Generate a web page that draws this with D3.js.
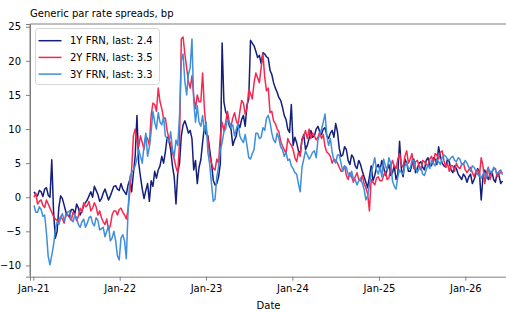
<!DOCTYPE html>
<html>
<head>
<meta charset="utf-8">
<script src="https://cdn.jsdelivr.net/npm/d3@7"></script>
<style>
  body { margin: 0; background: #fff; }
  svg { display: block; font-family: "DejaVu Sans", sans-serif; }
</style>
</head>
<body>
<svg id="chart" width="506" height="313"></svg>
<script>
// one reading every 7.5 days (180 hours), starting 4 Jan 2021
var startDate = "2021-01-04"
var stepHours = 180

var series1Y = [
  0.8, 0.4, 0.2, 1.0, 0.8, 0.1, 1.2, 1.4, 0.3, 0.0, 5.5, -2.0, -6.0, -5.0, -1.5, 0.2, -0.2, -1.2, -2.2, -2.6, -2.8, -1.8, -1.8, -2.4, -1.0,
  -1.6, -2.6, -2.0, -1.2, -0.8, -0.4, 0.2, 0.8, 0.0, 1.6, 1.0, 0.4, -0.6, -0.2, 0.6, 1.2, 0.4, -0.4, 0.2, 0.9, 1.6, 1.7, 1.2, 1.0, 2.0,
  1.2, 0.8, 0.4, 1.8, 2.6, 0.8, 3.5, 6.0, 12.0, 5.0, 3.0, 1.2, -0.2, 1.0, 2.0, -0.6, 2.4, 1.6, 3.8, 2.8, 4.0, 4.6, 6.0, 5.0,
  6.6, 8.8, 8.4, 7.0, 4.6, 3.0, -1.0, 3.6, 5.0, 9.0, 10.6, 11.2, 10.4, 9.4, 9.8, 8.6, 4.0, 5.4, 2.0, 4.4, 5.5, 8.0, 10.4, 9.2,
  9.0, 7.0, 5.0, 2.5, 1.8, 2.0, 3.0, 5.0, 22.6, 14.0, 12.5, 12.0, 10.5, 10.0, 7.6, 8.4, 9.0, 10.8, 10.2, 11.4, 12.0, 10.4, 13.5, 14.4,
  23.0, 22.6, 22.2, 21.4, 20.5, 20.8, 19.6, 21.2, 21.0, 20.6, 20.4, 18.6, 18.0, 16.8, 16.0, 15.4, 14.6, 14.2, 13.2, 12.0, 11.4, 10.0, 9.5, 13.6,
  7.6, 8.8, 8.0, 6.8, 6.4, 8.4, 9.2, 7.0, 7.6, 8.6, 9.8, 8.8, 9.0, 10.0, 10.4, 9.6, 9.2, 10.0, 10.2, 9.0, 8.6, 9.4, 9.8, 8.8, 10.8,
  9.6, 7.2, 6.0, 6.2, 7.4, 7.0, 5.4, 4.8, 6.2, 5.8, 4.6, 4.2, 5.4, 4.8, 3.8, 3.0, 2.2, 1.4, 3.0, 4.6, 2.4, 3.2, 4.4, 4.8, 4.0,
  5.4, 4.4, 3.2, 4.0, 4.8, 3.2, 3.6, 4.6, 2.6, 3.4, 8.2, 4.2, 3.0, 5.6, 5.0, 3.8, 3.8, 4.8, 5.6, 3.6, 4.2, 5.0, 5.2, 4.4,
  4.0, 5.4, 5.8, 4.6, 4.6, 5.8, 5.6, 4.8, 7.4, 6.0, 5.0, 4.6, 4.4, 5.6, 5.2, 4.0, 3.6, 4.6, 4.2, 3.4, 3.0, 2.6, 3.4, 3.0,
  2.2, 3.0, 3.4, 2.0, 2.6, 3.4, 4.2, 3.6, -0.4, 3.0, 4.0, 3.2, 2.6, 3.4, 3.8, 2.6, 2.2, 3.6, 3.2, 2.0, 2.4
]
var series2Y = [
  0.0, 0.6, -1.0, -0.6, -0.4, -1.2, -1.5, -0.4, -1.0, -1.6, -2.2, -2.8, -3.2, -3.4, -3.6, -2.8, -3.2, -3.8, -2.4, -2.6, -3.0, -3.4, -2.2, -2.6, -3.4,
  -2.8, -1.6, -2.2, -0.8, -1.4, -1.2, -0.6, -2.0, -1.6, -0.8, -1.4, -2.6, -2.0, -3.0, -3.6, -4.0, -3.2, -4.8, -4.2, -2.6, -2.0, -2.0, -2.6, -1.8, -1.6,
  -2.2, -2.6, -3.2, -1.8, 0.8, 4.0, 9.0, 10.0, 8.2, 7.4, 9.0, 8.0, 7.0, 9.0, 8.6, 7.6, 12.0, 13.8, 13.6, 12.6, 16.0, 14.0, 13.0, 11.6,
  11.6, 9.8, 8.6, 7.8, 6.6, 5.6, 4.4, 3.6, 8.0, 23.2, 23.5, 21.0, 19.0, 17.0, 16.0, 17.8, 14.8, 13.0, 15.0, 14.0, 14.0, 18.2, 13.0, 10.0,
  8.5, 6.0, 5.0, 4.2, 4.0, 5.6, 5.0, 9.0, 11.0, 9.8, 11.0, 12.6, 11.0, 10.4, 11.6, 12.4, 11.2, 10.6, 12.6, 14.2, 13.8, 12.2, 13.0, 15.8,
  15.2, 14.4, 16.8, 18.2, 17.5, 16.8, 19.0, 21.0, 17.6, 15.6, 16.0, 12.4, 12.6, 11.2, 10.8, 10.0, 9.6, 8.2, 7.5, 7.0, 6.4, 8.6, 8.0, 7.6,
  7.0, 5.8, 5.2, 6.6, 6.0, 8.6, 9.0, 9.8, 8.6, 10.0, 8.6, 9.4, 9.0, 8.4, 8.8, 9.6, 8.6, 9.2, 7.4, 6.6, 6.4, 6.0, 5.0, 5.6, 5.4,
  5.0, 4.4, 3.8, 4.0, 4.6, 3.2, 2.6, 3.6, 3.0, 2.2, 3.0, 3.6, 2.6, 2.4, 3.2, 2.0, 1.4, 0.5, -2.0, 2.6, 2.2, 1.8, 2.8, 3.0, 2.4,
  2.4, 3.2, 3.8, 2.6, 2.8, 4.4, 5.4, 4.6, 4.2, 5.6, 6.4, 4.8, 4.4, 6.0, 6.8, 5.0, 5.6, 6.4, 4.2, 5.2, 5.4, 4.6, 4.0, 5.4,
  5.2, 4.8, 4.6, 5.6, 6.0, 5.0, 6.4, 6.2, 5.6, 6.6, 6.8, 5.4, 4.4, 5.0, 3.8, 4.6, 4.6, 3.8, 5.0, 4.4, 4.2, 4.8, 5.0, 4.0,
  3.6, 4.0, 4.4, 3.6, 3.0, 3.8, 4.0, 3.2, 5.8, 4.6, 2.0, 3.6, 4.4, 2.6, 3.6, 4.2, 4.2, 3.0, 3.2, 3.8, 3.5
]
var series3Y = [
  -1.2, -2.2, -2.2, -1.4, -1.8, -2.8, -2.6, -5.2, -8.7, -9.9, -8.5, -7.0, -4.8, -3.6, -4.0, -3.0, -2.4, -3.4, -2.8, -2.2, -2.0, -3.2, -3.6, -2.6, -3.0,
  -4.0, -4.4, -3.6, -3.2, -4.4, -3.8, -3.0, -2.8, -3.8, -4.2, -3.0, -3.4, -4.8, -4.6, -4.4, -5.8, -5.0, -4.2, -6.4, -6.0, -5.0, -6.4, -8.6, -9.2, -6.0,
  -5.5, -6.4, -9.0, -2.0, 3.0, 3.6, 4.0, 4.6, 5.6, 7.0, 6.0, 5.0, 7.6, 9.4, 6.0, 7.4, 9.6, 12.6, 11.0, 10.0, 12.4, 11.0, 10.6, 11.8,
  9.0, 8.6, 8.0, 9.6, 7.0, 6.0, 8.4, 7.6, 12.0, 20.0, 21.0, 17.0, 15.0, 18.0, 19.0, 23.2, 14.0, 11.0, 13.4, 11.0, 10.4, 12.0, 9.6, 11.0,
  6.5, 4.8, 2.0, -0.6, -0.3, 3.0, 4.5, 7.0, 8.0, 9.6, 10.0, 11.4, 11.0, 10.2, 10.6, 9.0, 10.0, 10.8, 9.0, 8.4, 8.0, 9.2, 7.6, 5.8,
  5.6, 6.4, 7.0, 9.4, 9.4, 8.6, 8.8, 10.2, 9.8, 11.6, 12.0, 11.0, 9.4, 8.4, 8.0, 9.4, 8.6, 7.4, 7.0, 6.0, 6.6, 5.4, 5.6, 4.6,
  4.2, 3.6, 3.4, 2.0, 0.8, 4.4, 5.6, 6.8, 6.2, 5.6, 6.0, 6.6, 6.8, 5.8, 8.4, 9.2, 10.0, 11.0, 12.2, 9.0, 7.6, 8.6, 6.6, 5.4, 5.0,
  6.2, 6.2, 5.0, 3.8, 4.6, 4.4, 3.4, 3.0, 3.8, 2.6, 2.6, 1.8, 2.4, 2.8, 2.0, 1.2, -0.4, 0.2, 1.8, 3.6, 4.6, 5.8, 4.0, 3.4, 4.4,
  3.0, 5.6, 4.6, 4.0, 5.8, 5.0, 2.4, 1.6, 1.2, 3.0, 4.0, 3.6, 3.4, 4.6, 5.0, 4.2, 4.2, 5.4, 5.4, 4.4, 3.6, 4.2, 4.4, 3.4,
  3.2, 4.0, 4.8, 4.2, 5.4, 5.0, 4.6, 5.6, 5.2, 4.8, 5.8, 6.2, 6.0, 5.6, 5.4, 5.8, 6.0, 5.4, 5.2, 5.8, 5.6, 4.8, 4.8, 5.4,
  5.0, 4.4, 3.8, 4.6, 4.4, 3.8, 3.4, 3.0, 2.8, 3.4, 3.6, 2.8, 4.2, 3.8, 3.6, 4.4, 4.0, 3.4, 3.8, 4.0, 3.3
]

var seriesNames = ["1Y FRN", "2Y FRN", "3Y FRN"]
var seriesColors = ["#141f7c", "#f7284f", "#3f8edb"]
var yTicks = [-10, -5, 0, 5, 10, 15, 20, 25]

var svg = d3.select("#chart")
var parse = d3.timeParse("%Y-%m-%d")
var t0 = parse(startDate)
var dates = series1Y.map(function (d, i) {
  return d3.timeHour.offset(t0, i * stepHours)
})

var x = d3.scaleTime()
  .domain([parse("2020-12-18"), parse("2026-06-26")])
  .range([30, 507])
var y = d3.scaleLinear()
  .domain([-11.65, 25.4])
  .range([276.7, 24])

// spines
svg.append("line")
  .attr("x1", 30).attr("x2", 30).attr("y1", 24).attr("y2", 276.7)
  .attr("stroke", "#7f7f7f")
svg.append("line")
  .attr("x1", 30).attr("x2", 507).attr("y1", 24).attr("y2", 24)
  .attr("stroke", "#7f7f7f")

svg.append("g")
  .attr("transform", "translate(0,276.7)")
  .call(d3.axisBottom(x)
    .ticks(d3.timeYear.every(1))
    .tickFormat(d3.timeFormat("%b-%y"))
    .tickSize(4)
    .tickPadding(4))
svg.append("g")
  .attr("transform", "translate(30,0)")
  .call(d3.axisLeft(y)
    .tickValues(yTicks)
    .tickSize(4)
    .tickPadding(5))

svg.selectAll(".domain").attr("stroke", "#7f7f7f")
svg.selectAll(".tick line").attr("stroke", "#7f7f7f")
svg.selectAll(".tick text")
  .attr("fill", "#000")
  .style("font-size", "10px")
  .style("font-family", "DejaVu Sans")

var line = d3.line()
  .x(function (d) { return x(d[0]) })
  .y(function (d) { return y(d[1]) })

var allSeries = [series1Y, series2Y, series3Y]
allSeries.forEach(function (vals, k) {
  svg.append("path")
    .datum(vals.map(function (v, i) { return [dates[i], v] }))
    .attr("fill", "none")
    .attr("stroke", seriesColors[k])
    .attr("stroke-width", 1.5)
    .attr("stroke-linejoin", "round")
    .attr("d", line)
})

// title and axis label
svg.append("text")
  .attr("x", 30).attr("y", 16.5)
  .style("font-size", "10px")
  .text("Generic par rate spreads, bp")
svg.append("text")
  .attr("x", 268.5).attr("y", 309)
  .attr("text-anchor", "middle")
  .style("font-size", "10px")
  .text("Date")

// legend
var legend = svg.append("g")
legend.append("rect")
  .attr("x", 35.5).attr("y", 28.5)
  .attr("width", 124).attr("height", 56)
  .attr("rx", 3)
  .attr("fill", "#fff").attr("fill-opacity", 0.8)
  .attr("stroke", "#d6d6d6")
seriesNames.forEach(function (name, k) {
  var vals = allSeries[k]
  var ly = 40.7 + k * 16.7
  legend.append("line")
    .attr("x1", 38.5).attr("x2", 61.5)
    .attr("y1", ly).attr("y2", ly)
    .attr("stroke", seriesColors[k])
    .attr("stroke-width", 1.5)
  legend.append("text")
    .attr("x", 70).attr("y", ly)
    .attr("dy", "0.36em")
    .style("font-size", "10px")
    .text(name + ", last: " + vals[vals.length - 1].toFixed(1))
})
</script>
</body>
</html>
